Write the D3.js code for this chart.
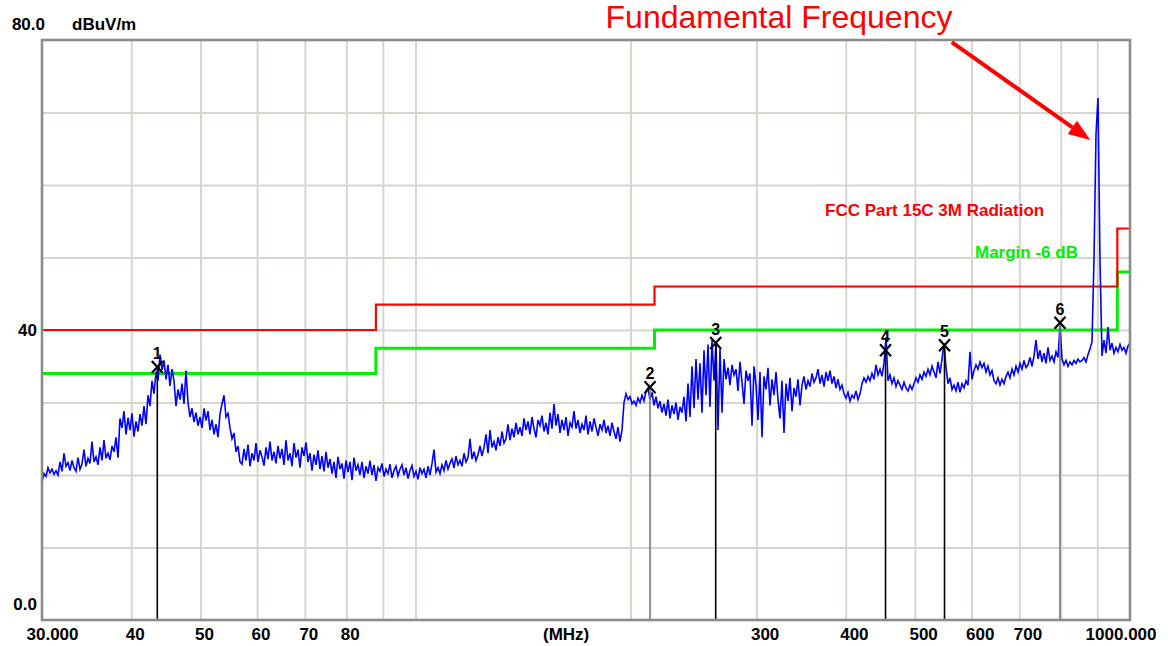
<!DOCTYPE html>
<html>
<head>
<meta charset="utf-8">
<script src="https://cdn.jsdelivr.net/npm/d3@7"></script>
<style>
html, body { margin: 0; padding: 0; background: #ffffff; }
svg { display: block; }
</style>
</head>
<body>
<svg id="chart" width="1168" height="646"></svg>
<script>
// ---------------- DATA ----------------
const sweepStartMHz = 30;
const sweepStopMHz = 1000;

// Measured level (dBuV/m) along a logarithmic sweep 30 MHz -> 1000 MHz
const traceLevels = [
  19.0,20.2,19.8,21.0,20.3,20.8,20.1,20.6,20.0,21.8,20.5,23.0,21.2,21.7,20.6,22.0,21.0,20.5,22.4,20.8,
  21.5,23.5,21.2,22.3,21.6,24.6,21.8,22.5,21.4,23.8,22.0,24.8,22.3,23.0,22.1,24.0,23.2,25.2,22.4,27.8,
  26.5,28.8,25.6,27.9,26.2,28.5,25.3,27.4,26.0,28.4,26.8,29.5,27.0,31.0,29.5,33.0,31.2,34.2,33.0,36.6,
  34.5,35.8,33.2,35.2,32.3,34.6,33.0,29.5,31.8,30.4,32.6,29.8,34.4,30.0,28.0,29.2,27.3,28.6,26.8,28.0,
  26.5,29.2,27.5,28.8,26.2,27.6,25.6,27.0,25.2,28.4,29.8,31.0,28.0,28.5,26.5,25.0,25.8,23.2,24.0,21.8,
  21.5,23.6,22.0,24.2,21.2,23.0,22.0,24.4,21.8,23.4,22.5,21.3,23.8,22.2,24.6,22.0,23.2,21.6,24.0,22.3,
  23.6,21.4,24.8,22.0,23.0,21.2,24.4,22.4,23.5,21.0,23.8,22.6,24.5,21.8,23.0,20.6,22.8,21.4,23.4,20.8,
  22.6,20.5,23.2,21.0,22.2,20.2,21.8,19.6,22.5,20.8,21.6,19.5,22.0,20.4,21.8,19.3,22.4,20.6,21.4,20.0,
  21.8,19.6,21.2,20.2,22.0,20.0,21.4,19.2,21.0,20.5,21.6,19.8,20.8,20.2,21.5,19.6,20.6,21.2,19.9,20.8,
  21.4,20.0,21.0,19.5,20.6,21.3,19.8,20.5,19.4,21.0,20.2,20.8,19.6,21.2,20.0,21.6,23.5,20.4,21.0,20.2,
  21.4,20.6,22.0,20.8,21.6,22.2,21.0,22.6,21.4,22.0,21.2,23.0,21.8,22.4,25.0,22.2,23.2,22.0,22.8,24.0,
  22.6,23.8,25.6,23.0,26.2,23.8,24.6,23.4,25.2,24.0,26.0,24.4,25.0,27.0,24.8,26.4,25.2,27.2,25.6,26.6,
  25.4,27.8,26.2,27.4,25.6,28.0,26.4,25.2,27.6,26.8,28.2,26.0,27.2,25.6,28.6,26.4,29.8,26.8,28.4,25.8,
  27.6,26.2,28.0,25.4,27.2,26.6,28.8,26.4,27.6,25.8,27.0,26.2,28.2,25.6,27.4,26.0,27.8,26.6,25.4,27.0,
  26.2,27.6,25.8,26.8,25.4,27.2,26.0,25.0,26.6,24.6,26.2,30.0,31.2,30.4,30.8,29.8,30.2,29.6,30.6,30.0,
  31.0,30.2,31.6,32.0,30.4,31.4,29.6,30.8,29.2,30.2,28.6,29.8,28.2,30.4,27.8,29.6,28.4,30.0,27.6,29.4,
  28.6,30.8,27.4,32.6,28.0,35.0,29.2,36.0,30.4,35.4,28.6,37.2,31.0,38.0,29.4,38.6,33.0,38.2,26.2,37.4,
  28.6,36.0,33.2,34.8,32.4,35.2,33.8,34.6,31.6,35.6,32.8,29.8,34.4,33.0,34.0,26.8,35.0,32.4,27.6,34.2,
  25.2,33.6,31.8,34.8,29.6,33.2,31.0,34.2,30.4,27.8,33.0,25.8,32.6,30.2,33.4,28.8,32.0,30.8,33.2,29.6,
  32.4,33.6,31.8,33.0,32.2,34.0,32.8,33.4,34.6,32.6,33.8,32.2,34.2,33.0,34.4,32.6,33.6,32.0,33.2,31.8,
  32.4,31.2,30.6,31.4,30.2,31.0,30.6,31.6,30.4,31.2,32.6,33.4,32.8,33.6,33.0,34.0,33.2,35.2,33.8,34.6,
  33.6,35.4,39.0,33.0,33.8,32.6,33.4,32.2,33.0,32.4,31.8,32.8,32.0,31.6,32.4,31.8,32.6,33.4,32.8,33.8,
  33.2,34.2,33.6,34.6,33.8,35.0,34.2,33.4,35.6,34.0,36.0,38.2,34.8,32.6,33.4,31.8,32.4,31.6,32.8,31.4,
  32.6,32.0,33.0,32.4,37.0,33.2,34.4,35.2,34.6,35.6,34.8,35.4,34.2,35.0,33.8,34.4,33.0,32.6,33.4,32.4,
  33.2,32.6,33.6,34.2,33.4,34.6,33.8,35.0,34.2,35.4,34.6,35.8,34.8,35.2,36.2,35.0,36.4,38.6,36.0,37.2,
  35.6,36.8,35.4,37.6,35.8,36.4,35.6,37.0,36.2,40.6,36.0,35.2,35.8,35.0,35.6,35.2,35.8,35.4,36.0,35.6,
  35.8,36.2,35.6,36.6,37.4,38.4,49.8,67.0,72.0,49.6,36.4,38.6,36.8,40.4,37.2,38.2,36.8,37.6,37.0,38.0,37.2,37.6,36.8,37.8,38.2
];

// FCC Part 15C limit (step function)
const limitFreqs  = [30, 88, 216, 960, 1000];
const limitLevels = [40, 43.5, 46, 54, 54];
const marginDb = -6;

// Peak markers
const markerIds    = ["1", "2", "3", "4", "5", "6"];
const markerFreqs  = [43.5, 212.9, 263.1, 454.8, 550.0, 798.0];
const markerLevels = [34.9, 32.1, 38.2, 37.2, 37.9, 41.0];

// Axes
const xGridFreqs  = [40, 50, 60, 70, 80, 90, 100, 200, 300, 400, 500, 600, 700, 800, 900];
const yGridLevels = [10, 20, 30, 40, 50, 60, 70];
const xTickValues = [30, 40, 50, 60, 70, 80, 300, 400, 500, 600, 700, 1000];
const xTickLabels = ["30.000", "40", "50", "60", "70", "80", "300", "400", "500", "600", "700", "1000.000"];
const yTickValues = [0, 40, 80];
const yTickLabels = ["0.0", "40", "80.0"];
const yUnit = "dBuV/m";
const xUnit = "(MHz)";
const limitName  = "FCC Part 15C 3M Radiation";
const marginName = "Margin -6 dB";

// Annotation (data coordinates)
const annotationText = "Fundamental Frequency";
const annotationTail = [563, 79.7];
const annotationTip  = [880, 66.2];

// ---------------- CHART ----------------
const svg = d3.select("#chart");
const W = 1168, H = 646;
const plot = { left: 42, right: 1130, top: 40, bottom: 620 };
const boldFont = "'Liberation Sans', Arial, sans-serif";

const x = d3.scaleLog().domain([sweepStartMHz, sweepStopMHz]).range([plot.left, plot.right]);
const y = d3.scaleLinear().domain([0, 80]).range([plot.bottom, plot.top]);

svg.append("rect").attr("width", W).attr("height", H).attr("fill", "#ffffff");

// grid
const gridColor = "#d8d5ce";
const gx = svg.append("g")
  .attr("transform", `translate(0,${plot.bottom})`)
  .call(d3.axisBottom(x).tickValues(xGridFreqs).tickFormat("").tickSize(-(plot.bottom - plot.top)));
gx.select(".domain").remove();
gx.selectAll(".tick line").attr("stroke", gridColor).attr("stroke-width", 2);

const gy = svg.append("g")
  .attr("transform", `translate(${plot.left},0)`)
  .call(d3.axisLeft(y).tickValues(yGridLevels).tickFormat("").tickSize(-(plot.right - plot.left)));
gy.select(".domain").remove();
gy.selectAll(".tick line").attr("stroke", gridColor).attr("stroke-width", 2);

// limit lines
const limitPts = limitFreqs.map((f, i) => [f, limitLevels[i]]);
const marginPts = limitFreqs.map((f, i) => [f, limitLevels[i] + marginDb]);
const stepLine = d3.line().x(d => x(d[0])).y(d => y(d[1])).curve(d3.curveStepAfter);

svg.append("path").attr("d", stepLine(marginPts))
  .attr("fill", "none").attr("stroke", "#00ee00").attr("stroke-width", 3);
svg.append("path").attr("d", stepLine(limitPts))
  .attr("fill", "none").attr("stroke", "#ff0000").attr("stroke-width", 2.2);

// trace
const n = traceLevels.length;
const traceData = traceLevels.map((v, i) => [
  sweepStartMHz * Math.pow(sweepStopMHz / sweepStartMHz, i / (n - 1)), v
]);
svg.append("path")
  .attr("d", d3.line().x(d => x(d[0])).y(d => y(d[1]))(traceData))
  .attr("fill", "none").attr("stroke", "#0000ff").attr("stroke-width", 1.6)
  .attr("stroke-linejoin", "miter");

// markers
const mk = svg.append("g").selectAll("g").data(markerIds).join("g")
  .attr("transform", (d, i) => `translate(${x(markerFreqs[i])},${y(markerLevels[i])})`);
mk.append("line")
  .attr("x1", 0).attr("x2", 0).attr("y1", 2)
  .attr("y2", (d, i) => plot.bottom - y(markerLevels[i]))
  .attr("stroke", (d, i) => (i === 1 || i === 5) ? "#7a7a7a" : "#000000")
  .attr("stroke-width", 1.6);
mk.append("path")
  .attr("d", "M-5.5,-6L5.5,6M-5.5,6L5.5,-6")
  .attr("stroke", "#000").attr("stroke-width", 2.2).attr("fill", "none");
mk.append("text")
  .attr("x", 0).attr("y", -8)
  .attr("text-anchor", "middle")
  .attr("font-family", boldFont).attr("font-weight", "bold").attr("font-size", 16)
  .attr("fill", "#000").text(d => d);

// border
svg.append("rect")
  .attr("x", plot.left).attr("y", plot.top)
  .attr("width", plot.right - plot.left).attr("height", plot.bottom - plot.top)
  .attr("fill", "none").attr("stroke", "#8c8c8c").attr("stroke-width", 2.6);

// x labels
const xl = svg.append("g")
  .attr("transform", `translate(0,${plot.bottom})`)
  .call(d3.axisBottom(x).tickValues(xTickValues).tickSize(0)
    .tickFormat((d, i) => xTickLabels[i]));
xl.select(".domain").remove();
xl.selectAll(".tick text")
  .attr("font-family", boldFont).attr("font-weight", "bold").attr("font-size", 17)
  .attr("fill", "#000")
  .attr("y", 20).attr("dy", 0)
  .attr("text-anchor", (d, i) => i === xTickValues.length - 1 ? "end" : "start")
  .attr("x", (d, i) => i === 0 ? -16 : (i === xTickValues.length - 1 ? 26 : -6));

svg.append("text").attr("x", 543).attr("y", 640)
  .attr("font-family", boldFont).attr("font-weight", "bold").attr("font-size", 17)
  .attr("fill", "#000").text(xUnit);

// y labels
const yl = svg.append("g")
  .attr("transform", `translate(${plot.left},0)`)
  .call(d3.axisLeft(y).tickValues(yTickValues).tickSize(0)
    .tickFormat((d, i) => yTickLabels[i]));
yl.select(".domain").remove();
yl.selectAll(".tick text")
  .attr("font-family", boldFont).attr("font-weight", "bold").attr("font-size", 17)
  .attr("fill", "#000")
  .attr("dy", d => d === 40 ? "0.32em" : "-0.62em")
  .attr("x", d => d === 80 ? 3 : -5)
  .attr("text-anchor", "end");

svg.append("text").attr("x", 72).attr("y", 30)
  .attr("font-family", boldFont).attr("font-weight", "bold").attr("font-size", 17)
  .attr("fill", "#000").text(yUnit);

// legend labels
svg.append("text").attr("x", 825).attr("y", 216)
  .attr("font-family", boldFont).attr("font-weight", "bold").attr("font-size", 17)
  .attr("fill", "#ff0000").text(limitName);
svg.append("text").attr("x", 975).attr("y", 258)
  .attr("font-family", boldFont).attr("font-weight", "bold").attr("font-size", 17)
  .attr("fill", "#00ee00").text(marginName);

// annotation
svg.append("text").attr("x", 779).attr("y", 28)
  .attr("text-anchor", "middle")
  .attr("font-family", "'Liberation Sans', Arial, sans-serif").attr("font-size", 32)
  .attr("fill", "#ff0000").text(annotationText);

const tx = x(annotationTail[0]), ty = y(annotationTail[1]);
const hx = x(annotationTip[0]), hy = y(annotationTip[1]);
const ang = Math.atan2(hy - ty, hx - tx);
const headLen = 22, headW = 8;
const bx = hx - headLen * Math.cos(ang), by = hy - headLen * Math.sin(ang);
svg.append("line").attr("x1", tx).attr("y1", ty).attr("x2", bx).attr("y2", by)
  .attr("stroke", "#ff0000").attr("stroke-width", 4);
svg.append("path")
  .attr("d", `M${hx},${hy}L${bx + headW * Math.sin(ang)},${by - headW * Math.cos(ang)}L${bx - headW * Math.sin(ang)},${by + headW * Math.cos(ang)}Z`)
  .attr("fill", "#ff0000");
</script>
</body>
</html>
